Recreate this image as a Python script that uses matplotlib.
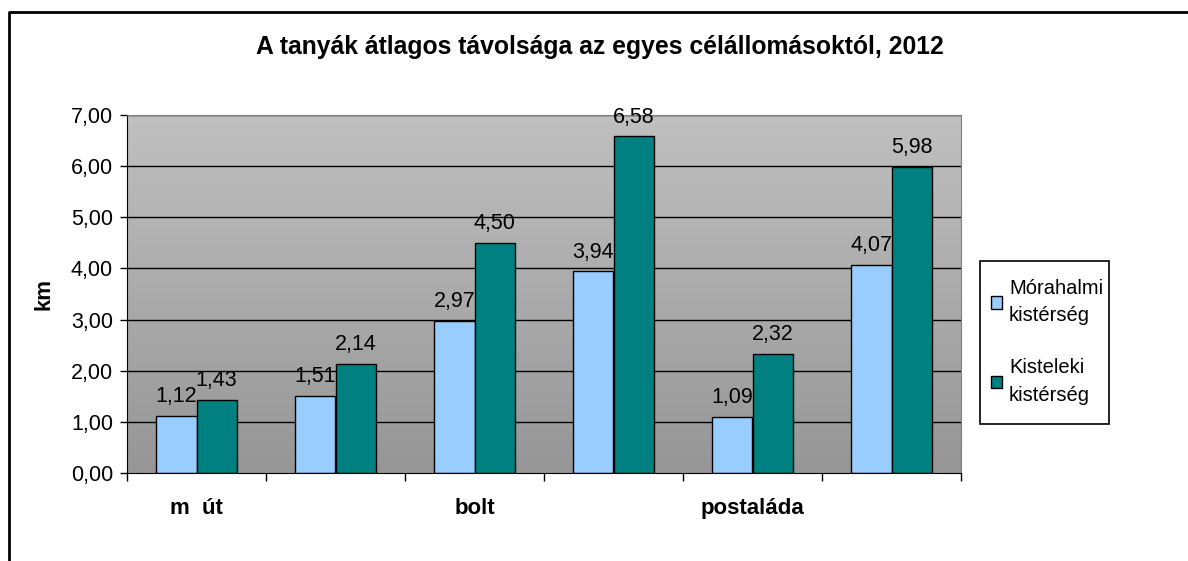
import numpy as np
import matplotlib
matplotlib.use("Agg")
import matplotlib.pyplot as plt
from matplotlib.lines import Line2D
from matplotlib.patches import Rectangle

plt.rcParams['font.family'] = ['Liberation Sans', 'DejaVu Sans']

# data
categories = ["m  út", "", "bolt", "", "postaláda", ""]
morahalmi = [1.12, 1.51, 2.97, 3.94, 1.09, 4.07]
kisteleki = [1.43, 2.14, 4.50, 6.58, 2.32, 5.98]
series_names = ["Mórahalmi\nkistérség", "Kisteleki\nkistérség"]
title = "A tanyák átlagos távolsága az egyes célállomásoktól, 2012"

fig = plt.figure(figsize=(11.88, 5.61), dpi=100)
ax = fig.add_axes([127/1188, 1 - 473/561, (961 - 127)/1188, (473 - 115)/561])

x = np.arange(len(categories))
w = 0.288

# gradient background of plot area
grad = np.linspace(0, 1, 256).reshape(-1, 1)
top = np.array([192, 192, 192]) / 255
bot = np.array([150, 150, 150]) / 255
img = top + (bot - top) * grad[:, :, None]
ax.imshow(img, extent=[-0.5, len(categories) - 0.5, 0, 7], aspect='auto', zorder=0)

ax.set_xlim(-0.5, len(categories) - 0.5)
ax.set_ylim(0, 7)

for v in range(1, 8):
    ax.axhline(v, color='black', lw=1, zorder=1)

b1 = ax.bar(x - w/2, morahalmi, w, color='#99CCFF', edgecolor='black', lw=1, zorder=2,
            label=series_names[0])
b2 = ax.bar(x + w/2, kisteleki, w, color='#008080', edgecolor='black', lw=1, zorder=2,
            label=series_names[1])

for bars, vals in [(b1, morahalmi), (b2, kisteleki)]:
    for r, v in zip(bars, vals):
        ax.annotate(f"{v:.2f}".replace('.', ','), (r.get_x() + r.get_width()/2, v),
                    xytext=(0, 10), textcoords='offset points', ha='center',
                    va='baseline', fontsize=15.5, zorder=3)

# ticks
ax.set_yticks(range(0, 8))
ax.set_yticklabels([f"{v},00" for v in range(0, 8)], fontsize=15.5)
ax.tick_params(axis='y', direction='out', length=5, width=1, pad=5)
ax.set_xticks(np.arange(-0.5, len(categories), 1))
ax.set_xticklabels([])
ax.tick_params(axis='x', which='major', direction='out', length=6, width=1)
ax.set_xticks(x, minor=True)
ax.set_xticklabels(categories, minor=True, fontsize=16, fontweight='bold')
ax.tick_params(axis='x', which='minor', length=0, pad=18)

ax.spines['left'].set_color('black')
ax.spines['bottom'].set_color('black')
ax.spines['top'].set_color('#808080')
ax.spines['right'].set_color('#808080')

ax.set_ylabel("km", fontsize=16, fontweight='bold', labelpad=12)

fig.text(600/1188, 1 - 47/561, title, ha='center', va='center', fontsize=17.8, fontweight='bold')

# legend box drawn separately, entries placed inside it
fig.add_artist(Rectangle((980/1188, 1 - 424/561), (1109 - 980)/1188, (424 - 261)/561,
                         transform=fig.transFigure, facecolor='white',
                         edgecolor='black', lw=1.2, zorder=1))
leg = fig.legend(handles=[b1, b2], loc='upper left',
                 bbox_to_anchor=(991/1188, 1 - 279/561), borderaxespad=0, fontsize=14.5,
                 frameon=False, handlelength=0.55, handleheight=0.55, handletextpad=0.35,
                 labelspacing=1.65, borderpad=0)
leg.set_zorder(2)
for t in leg.get_texts():
    t.set_linespacing(1.55)

# outer chart frame (left and top visible)
fig.add_artist(Line2D([9/1188, 9/1188, 1], [0, 1 - 12/561, 1 - 12/561],
                      transform=fig.transFigure, color='black', lw=2))

fig.savefig("out.png", dpi=100)
